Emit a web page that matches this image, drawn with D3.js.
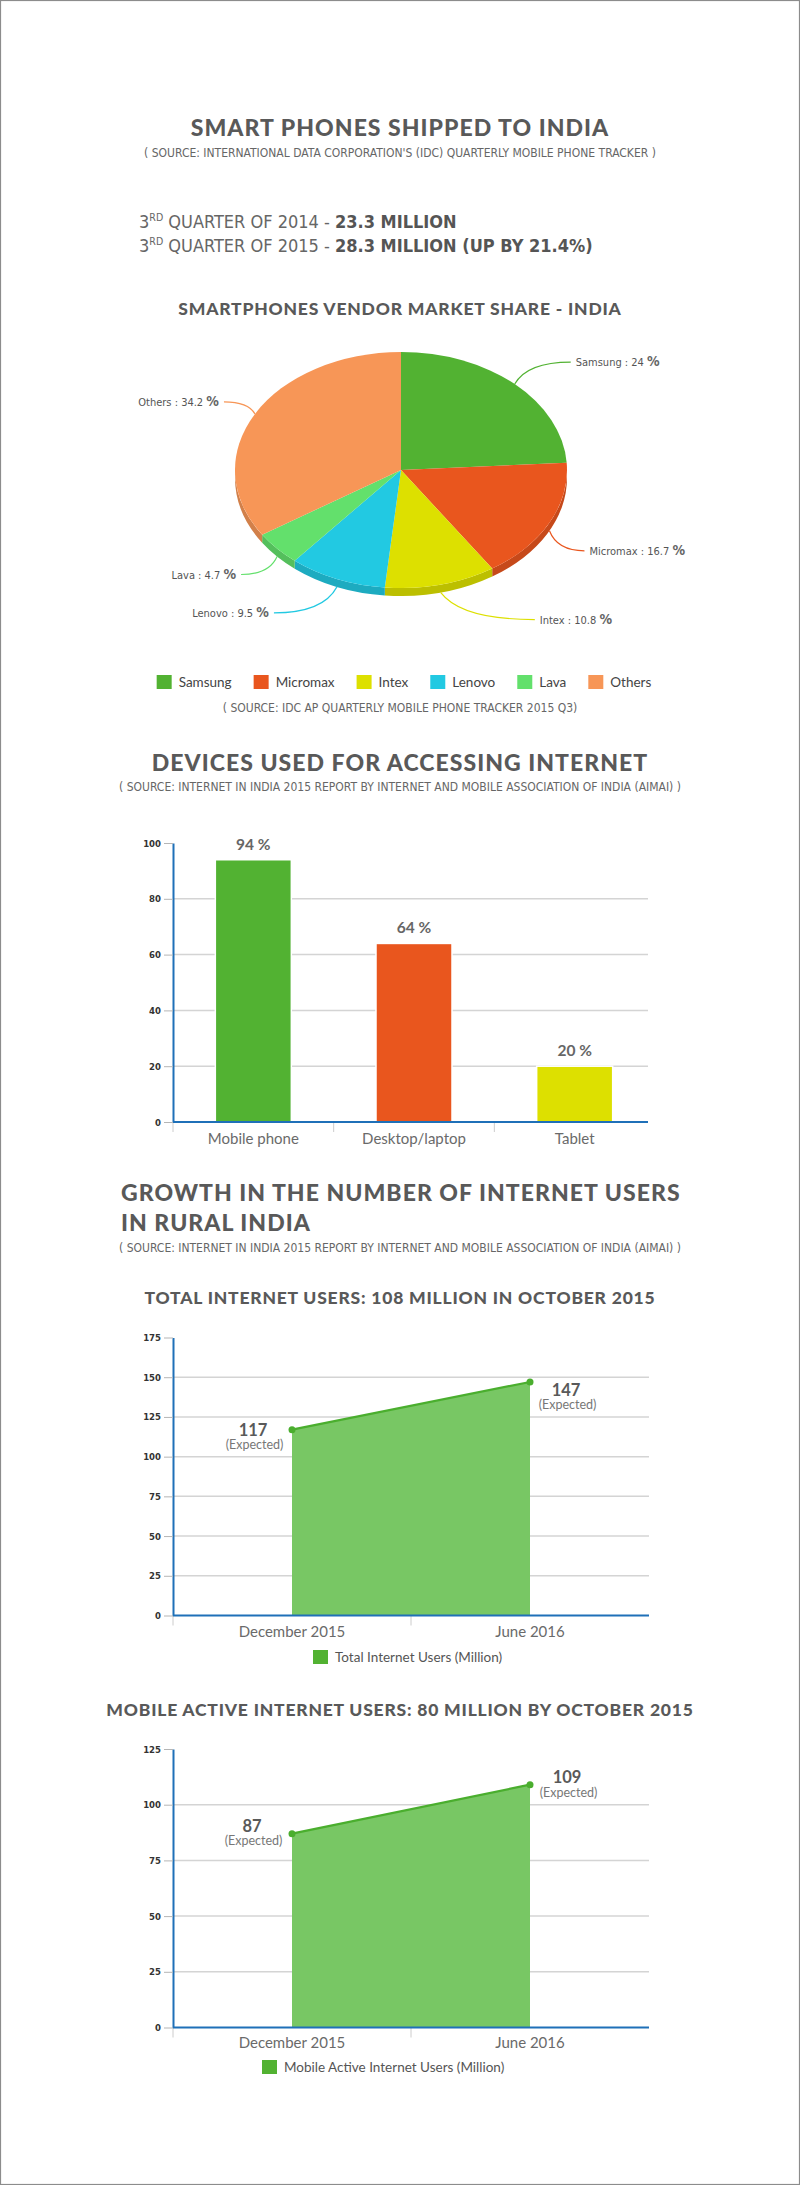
<!DOCTYPE html>
<html>
<head>
<meta charset="utf-8">
<script src="https://cdn.jsdelivr.net/npm/d3@7"></script>
<style>
  body { margin: 0; background: #fff; }
  svg { display: block; }
  .narrow { font-family: "Liberation Sans Narrow", "DejaVu Sans Condensed", "Roboto Condensed", "Liberation Sans", sans-serif; }
  .lato { font-family: Lato, "Open Sans", sans-serif; }
  .title { font-family: Lato, "Open Sans", sans-serif; font-weight: 900; fill: #595959; letter-spacing: 0.045em; }
</style>
</head>
<body>
<div id="chart"></div>
<script>
// ---- data ----
const pieLabels = ["Samsung", "Micromax", "Intex", "Lenovo", "Lava", "Others"];
const pieValues = [24, 16.7, 10.8, 9.5, 4.7, 34.2];
const pieColors = ["#52b232", "#e9561e", "#dde000", "#22c9e2", "#63e06c", "#f79657"];

const deviceCategories = ["Mobile phone", "Desktop/laptop", "Tablet"];
const deviceValues = [94, 64, 20];
const deviceColors = ["#52b232", "#e9561e", "#dde000"];
const deviceTicks = [0, 20, 40, 60, 80, 100];

const periods = ["December 2015", "June 2016"];
const totalUsers = [117, 147];
const totalTicks = [0, 25, 50, 75, 100, 125, 150, 175];
const mobileUsers = [87, 109];
const mobileTicks = [0, 25, 50, 75, 100, 125];

const W = 800, H = 2185;
const svg = d3.select('#chart').append('svg')
  .attr('width', W)
  .attr('height', H);

// page frame
svg.append('rect')
  .attr('x', 0.5).attr('y', 0.5)
  .attr('width', W - 1).attr('height', H - 1)
  .attr('fill', 'none')
  .attr('stroke', '#8c8c8c')
  .attr('stroke-width', 1.2);

function text(x, y, str, cls, size, anchor, fill) {
  return svg.append('text')
    .attr('class', cls)
    .attr('x', x).attr('y', y)
    .attr('font-size', size)
    .attr('text-anchor', anchor || 'middle')
    .attr('fill', fill || '#595959')
    .text(str);
}

// ---- header ----
text(400, 136, 'SMART PHONES SHIPPED TO INDIA', 'title', 23);
text(400, 157, "( SOURCE: INTERNATIONAL DATA CORPORATION'S (IDC) QUARTERLY MOBILE PHONE TRACKER )", 'narrow', 12, 'middle', '#666');

function quarterLine(y, year, value) {
  const t = svg.append('text')
    .attr('class', 'narrow')
    .attr('x', 139).attr('y', y)
    .attr('font-size', 18)
    .attr('fill', '#666');
  t.append('tspan').text('3');
  t.append('tspan').attr('font-size', 10.5).attr('dy', -7).text('RD');
  t.append('tspan').attr('dy', 7).text(' QUARTER OF ' + year + ' - ');
  t.append('tspan').attr('font-weight', 'bold').attr('fill', '#555').text(value);
}
quarterLine(228, 2014, '23.3 MILLION');
quarterLine(252, 2015, '28.3 MILLION (UP BY 21.4%)');

// ---- pie (tilted) ----
text(400, 315, 'SMARTPHONES VENDOR MARKET SHARE - INDIA', 'title', 17.5);

const pcx = 401, pcy = 470, prx = 166, pry = 118, depth = 8;
const slices = d3.pie().sort(null).value(d => d)(pieValues);
const pt = (a, dy) => [pcx + prx * Math.sin(a), pcy - pry * Math.cos(a) + (dy || 0)];

const pieG = svg.append('g').attr('class', 'pie');

// side band (front half only)
pieG.selectAll('path.side')
  .data(slices)
  .join('path')
  .attr('class', 'side')
  .attr('fill', (d, i) => d3.color(pieColors[i]).darker(0.45))
  .attr('d', d => {
    const s0 = Math.max(d.startAngle, Math.PI / 2);
    const s1 = Math.min(d.endAngle, 3 * Math.PI / 2);
    if (s0 >= s1) return null;
    const a = pt(s0), b = pt(s1), c = pt(s1, depth), e = pt(s0, depth);
    return `M${a} A${prx},${pry} 0 0 1 ${b} L${c} A${prx},${pry} 0 0 0 ${e} Z`;
  });

pieG.selectAll('path.top')
  .data(slices)
  .join('path')
  .attr('class', 'top')
  .attr('fill', (d, i) => pieColors[i])
  .attr('d', d => {
    const big = d.endAngle - d.startAngle > Math.PI ? 1 : 0;
    return `M${pcx},${pcy} L${pt(d.startAngle)} A${prx},${pry} 0 ${big} 1 ${pt(d.endAngle)} Z`;
  });

// leader lines + labels
const leaderOffsets = [[56, -22], [35, 20], [94, 27], [-63, 26], [-36, 18], [-31, -12]];
slices.forEach((d, i) => {
  const mid = (d.startAngle + d.endAngle) / 2;
  const front = mid > Math.PI / 2 && mid < 3 * Math.PI / 2;
  const s = pt(mid, front ? depth : 0);
  const [dx, dy] = leaderOffsets[i];
  const e = [s[0] + dx, s[1] + dy];
  const ctrl = [s[0] + dx * 0.22, e[1]];
  pieG.append('path')
    .attr('d', `M${s} Q${ctrl} ${e}`)
    .attr('fill', 'none')
    .attr('stroke', pieColors[i])
    .attr('stroke-width', 1.2);
  const right = dx > 0;
  const lab = pieG.append('text')
    .attr('class', 'narrow')
    .attr('x', e[0] + (right ? 5 : -5))
    .attr('y', e[1] + 4)
    .attr('font-size', 11)
    .attr('fill', '#555')
    .attr('text-anchor', right ? 'start' : 'end');
  lab.append('tspan').text(pieLabels[i] + ' : ' + pieValues[i] + ' ');
  lab.append('tspan').attr('font-size', 14).attr('font-weight', 'bold').attr('fill', '#666').text('%');
});

// pie legend
const legG = svg.append('g').attr('class', 'lato');
let lx = 0;
pieLabels.forEach((name, i) => {
  const g = legG.append('g');
  g.append('rect').attr('y', -7).attr('width', 15).attr('height', 14).attr('fill', pieColors[i]);
  const t = g.append('text').attr('x', 22).attr('y', 5).attr('font-size', 13.5).attr('fill', '#444').text(name);
  const w = 22 + t.node().getComputedTextLength();
  g.attr('transform', `translate(${lx},682)`);
  lx += w + 22;
});
const legW = lx - 22;
legG.attr('transform', `translate(${404 - legW / 2},0)`);

text(400, 712, '( SOURCE: IDC AP QUARTERLY MOBILE PHONE TRACKER 2015 Q3)', 'narrow', 12, 'middle', '#666');

// ---- bar chart ----
text(400, 771, 'DEVICES USED FOR ACCESSING INTERNET', 'title', 23);
text(400, 791, '( SOURCE: INTERNET IN INDIA 2015 REPORT BY INTERNET AND MOBILE ASSOCIATION OF INDIA (AIMAI) )', 'narrow', 12, 'middle', '#666');

function yAxisStyle(g) {
  g.select('.domain').attr('stroke', '#1f70b8').attr('stroke-width', 2);
  g.selectAll('.tick line').attr('stroke', '#b5b5b5');
  g.selectAll('.tick text')
    .attr('class', 'narrow')
    .attr('font-size', 9.5)
    .attr('font-weight', 'bold')
    .attr('fill', '#333');
}

function grid(g, y, ticks, x0, x1) {
  g.selectAll('line.grid')
    .data(ticks.slice(1, -1))
    .join('line')
    .attr('class', 'grid')
    .attr('x1', x0).attr('x2', x1)
    .attr('y1', d => y(d)).attr('y2', d => y(d))
    .attr('stroke', '#d4d4d4')
    .attr('stroke-width', 1.5);
}

function xBase(g, x, y0, x0, x1) {
  // category boundary ticks
  g.selectAll('line.btick')
    .data(x.domain())
    .join('line')
    .attr('class', 'btick')
    .attr('x1', d => x(d) + x.bandwidth() / 2 - x.step() / 2)
    .attr('x2', d => x(d) + x.bandwidth() / 2 - x.step() / 2)
    .attr('y1', y0).attr('y2', y0 + 10)
    .attr('stroke', '#ccc');
  g.append('line')
    .attr('x1', x0).attr('x2', x1)
    .attr('y1', y0).attr('y2', y0)
    .attr('stroke', '#1f70b8')
    .attr('stroke-width', 2);
}

function xLabels(g, x, y0, pad) {
  const ax = g.append('g')
    .attr('transform', `translate(0,${y0})`)
    .call(d3.axisBottom(x).tickSize(0).tickPadding(pad));
  ax.select('.domain').remove();
  ax.selectAll('text')
    .attr('class', 'lato')
    .attr('font-size', 15)
    .attr('fill', '#6a6a6a');
}

{
  const y = d3.scaleLinear().domain([0, 100]).range([1122, 843]);
  const x = d3.scaleBand().domain(deviceCategories).range([173, 655])
    .paddingInner(0.527).paddingOuter(0.2635);
  const g = svg.append('g').attr('class', 'bars');

  grid(g, y, deviceTicks, 173, 648);

  g.selectAll('rect.bar')
    .data(deviceValues)
    .join('rect')
    .attr('class', 'bar')
    .attr('x', (d, i) => x(deviceCategories[i]))
    .attr('y', d => y(d))
    .attr('width', x.bandwidth())
    .attr('height', d => y(0) - y(d))
    .attr('fill', (d, i) => deviceColors[i])
    .attr('stroke', '#fff')
    .attr('stroke-width', 1.5);

  g.selectAll('text.val')
    .data(deviceValues)
    .join('text')
    .attr('class', 'val lato')
    .attr('x', (d, i) => x(deviceCategories[i]) + x.bandwidth() / 2)
    .attr('y', d => y(d) - 10)
    .attr('text-anchor', 'middle')
    .attr('font-size', 15.5)
    .attr('font-weight', 'bold')
    .attr('fill', '#666')
    .text(d => d + ' %');

  xBase(g, x, y(0), 173, 648);
  xLabels(g, x, y(0), 11);

  g.append('g')
    .attr('transform', 'translate(173,0)')
    .call(d3.axisLeft(y).tickValues(deviceTicks).tickSize(9).tickSizeOuter(0).tickPadding(3))
    .call(yAxisStyle);
}

// ---- rural internet users ----
text(121, 1201, 'GROWTH IN THE NUMBER OF INTERNET USERS', 'title', 23, 'start');
text(121, 1231, 'IN RURAL INDIA', 'title', 23, 'start');
text(400, 1252, '( SOURCE: INTERNET IN INDIA 2015 REPORT BY INTERNET AND MOBILE ASSOCIATION OF INDIA (AIMAI) )', 'narrow', 12, 'middle', '#666');

function areaChart(cfg) {
  const y = d3.scaleLinear().domain([0, d3.max(cfg.ticks)]).range([cfg.y0, cfg.yTop]);
  const x = d3.scaleBand().domain(periods).range([173, 649]);
  const cx = d => x(d) + x.bandwidth() / 2;
  const g = svg.append('g').attr('class', 'area-chart');
  const pts = cfg.values.map((v, i) => ({ p: periods[i], v }));

  text(400, cfg.titleY, cfg.title, 'title', 17.5);

  grid(g, y, cfg.ticks, 173, 649);

  g.append('path')
    .datum(pts)
    .attr('fill', '#78c764')
    .attr('d', d3.area().x(d => cx(d.p)).y0(y(0)).y1(d => y(d.v)));

  g.append('path')
    .datum(pts)
    .attr('fill', 'none')
    .attr('stroke', '#4aae2e')
    .attr('stroke-width', 2.2)
    .attr('d', d3.line().x(d => cx(d.p)).y(d => y(d.v)));

  g.selectAll('circle')
    .data(pts)
    .join('circle')
    .attr('cx', d => cx(d.p))
    .attr('cy', d => y(d.v))
    .attr('r', 3.5)
    .attr('fill', '#4aae2e');

  pts.forEach((d, i) => {
    const o = cfg.labelOffsets[i];
    g.append('text')
      .attr('class', 'lato')
      .attr('x', cx(d.p) + o[0]).attr('y', y(d.v) + o[1])
      .attr('text-anchor', 'middle')
      .attr('font-size', 16.5)
      .attr('font-weight', 'bold')
      .attr('fill', '#595959')
      .text(d.v);
    g.append('text')
      .attr('class', 'lato')
      .attr('x', cx(d.p) + o[0] + 1.5).attr('y', y(d.v) + o[2])
      .attr('text-anchor', 'middle')
      .attr('font-size', 12.5)
      .attr('fill', '#777')
      .text('(Expected)');
  });

  xBase(g, x, y(0), 173, 649);
  xLabels(g, x, y(0), cfg.labelPad);

  g.append('g')
    .attr('transform', 'translate(173,0)')
    .call(d3.axisLeft(y).tickValues(cfg.ticks).tickSize(9).tickSizeOuter(0).tickPadding(3))
    .call(yAxisStyle);

  // legend
  const lg = g.append('g').attr('transform', `translate(${cfg.legendX},${cfg.legendY})`);
  lg.append('rect').attr('y', -7).attr('width', 15).attr('height', 14).attr('fill', '#52b232');
  lg.append('text')
    .attr('class', 'lato')
    .attr('x', 22).attr('y', 5)
    .attr('font-size', 13.5)
    .attr('fill', '#555')
    .text(cfg.legend);
}

areaChart({
  title: 'TOTAL INTERNET USERS: 108 MILLION IN OCTOBER 2015',
  titleY: 1304,
  values: totalUsers,
  ticks: totalTicks,
  y0: 1615.5, yTop: 1337.5,
  labelOffsets: [[-39, 6, 19], [36, 14, 27]],
  labelPad: 11,
  legend: 'Total Internet Users (Million)',
  legendX: 313, legendY: 1657
});

areaChart({
  title: 'MOBILE ACTIVE INTERNET USERS: 80 MILLION BY OCTOBER 2015',
  titleY: 1716,
  values: mobileUsers,
  ticks: mobileTicks,
  y0: 2027.5, yTop: 1749,
  labelOffsets: [[-40, -2, 11], [37, -2, 12]],
  labelPad: 10,
  legend: 'Mobile Active Internet Users (Million)',
  legendX: 262, legendY: 2067
});
</script>
</body>
</html>
